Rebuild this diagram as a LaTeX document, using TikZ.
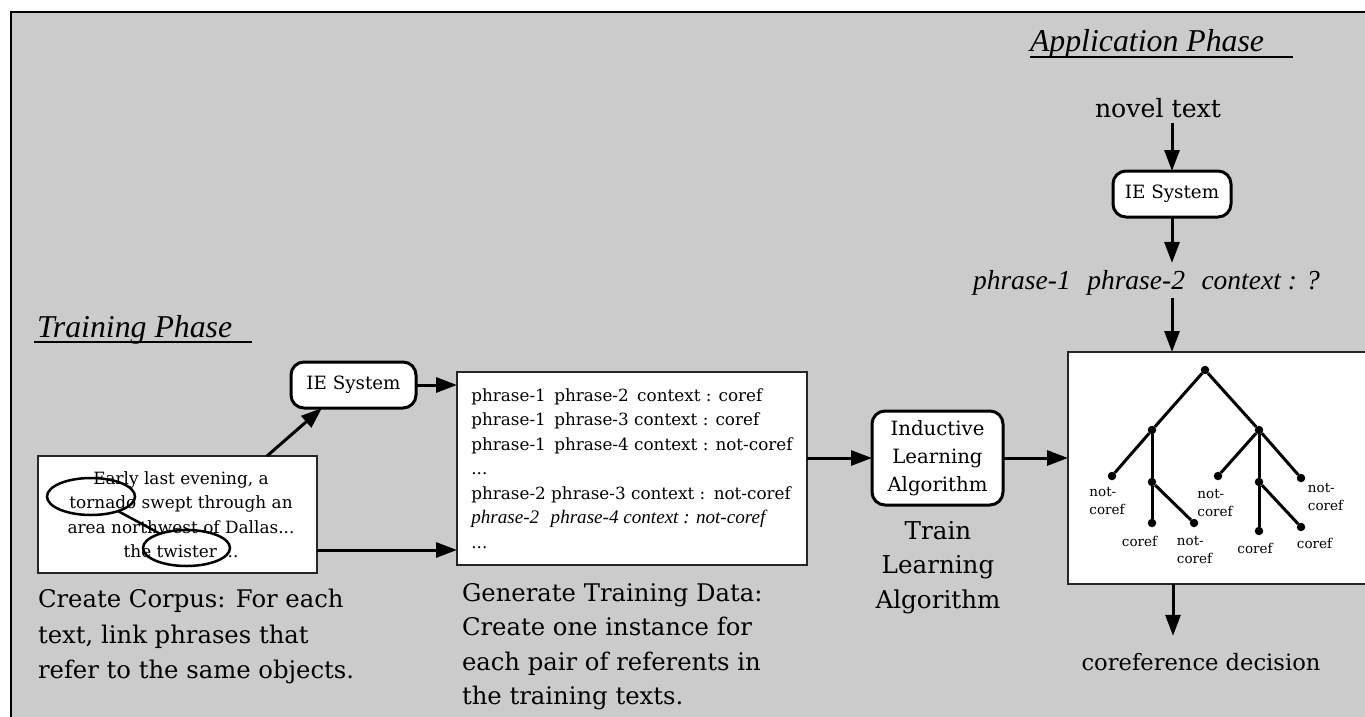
\documentclass[tikz,border=0pt]{standalone}
\usepackage{fontspec}
\setmainfont{DejaVu Serif}
\newfontfamily\timesfont{Liberation Serif}
\usetikzlibrary{arrows.meta,calc,shapes.geometric}
\definecolor{panelgrey}{HTML}{CBCBCB}
\tikzset{
  every node/.style={inner sep=0pt, outer sep=0pt},
  plainbox/.style={draw=black!85, line width=1.2pt, fill=white, rectangle},
  procbox/.style={draw=black, line width=3pt, fill=white, rounded corners=13pt},
  flow/.style={line width=3pt, -{Triangle[length=21pt,width=15pt]}},
  treeedge/.style={line width=3pt},
  treept/.style={circle, fill=black, minimum size=8.5pt},
  leaflabel/.style={font=\fontsize{13.5}{18.5}\selectfont, align=left},
  heading/.style={font=\timesfont\itshape\fontsize{31.8}{36}\selectfont},
  mark ring/.style={ellipse, draw=black, line width=2.5pt},
}
\begin{document}
\begin{tikzpicture}[x=1pt,y=-1pt]
\useasboundingbox (0,0) rectangle (1365,717);
\clip (0,0) rectangle (1365,717);
\fill[white] (0,0) rectangle (1365,717);

% grey panel with its top and left rule
\fill[panelgrey] (11,12) rectangle (1370,722);
\draw[line width=1.5pt] (11,722) -- (11,12) -- (1370,12);

% ---------- training phase ----------
\node[heading, anchor=base west] (trainhead) at (37,337) {Training Phase};
\draw[line width=1.6pt] (34,342) -- (252,342);

\node[plainbox, minimum width=279pt, minimum height=117pt] (corpus) at (177.5,514.5) {};
\node[font=\fontsize{16.9}{24.5}\selectfont, align=center] (corpustext) at (181,514.5)
  {Early last evening, a\\tornado swept through an\\area northwest of Dallas...\\the twister ...};
\node[mark ring, minimum width=88pt, minimum height=37pt] (tornado) at (91,496.5) {};
\node[mark ring, minimum width=87pt, minimum height=36pt] (twister) at (186.5,548) {};
\draw[line width=2.5pt] (tornado) -- (twister);

\node[font=\fontsize{24.3}{35.5}\selectfont, align=left, anchor=west] (corpuscap) at (38,636.5)
  {Create Corpus: For each\\text, link phrases that\\refer to the same objects.};

\node[procbox, minimum width=125pt, minimum height=46pt, font=\fontsize{18.3}{24}\selectfont] (ie1) at (353.5,385) {IE System};

\node[plainbox, minimum width=350pt, minimum height=193pt, align=left, font=\fontsize{16.8}{24.5}\selectfont] (data) at (632,468.5)
  {phrase-1\hspace{0.5em}phrase-2\hspace{0.5em}context : coref\\
   phrase-1\hspace{0.5em}phrase-3 context : coref\\
   phrase-1\hspace{0.5em}phrase-4 context : not-coref\\
   ...\\
   phrase-2 phrase-3 context :\hspace{0.5em}not-coref\\
   {\timesfont\itshape\fontsize{19.1}{24.5}\selectfont phrase-2\hspace{0.6em}phrase-4 context : not-coref}\\
   ...};

\node[font=\fontsize{24.3}{34.5}\selectfont, align=left, anchor=west] (datacap) at (462,646.5)
  {Generate Training Data:\\Create one instance for\\each pair of referents in\\the training texts.};

\node[procbox, minimum width=131pt, minimum height=94pt, align=center, font=\fontsize{19.7}{28}\selectfont] (ind) at (937.5,458)
  {Inductive\\Learning\\Algorithm};
\node[font=\fontsize{24.6}{34.5}\selectfont, align=center] (traincap) at (938,567.5)
  {Train\\Learning\\Algorithm};

% ---------- application phase ----------
\node[heading, anchor=base west] (apphead) at (1030,52) {Application Phase};
\draw[line width=1.6pt] (1030,57) -- (1293,57);

\node[font=\fontsize{25.2}{34}\selectfont, anchor=base] (novel) at (1158,117) {novel text};
\node[procbox, minimum width=118pt, minimum height=46pt, font=\fontsize{18.3}{24}\selectfont] (ie2) at (1172,194) {IE System};
\node[font=\timesfont\itshape\fontsize{27.5}{32}\selectfont, anchor=base west] (query) at (973,289)
  {phrase-1\hspace{0.6em}phrase-2\hspace{0.6em}context : ?};

\node[plainbox, minimum width=320pt, minimum height=232pt, anchor=north west] (tree) at (1068,352) {};

% decision tree
\node[treept] (root) at (1205,370) {};
\node[treept] (l)    at (1152,430) {};
\node[treept] (r)    at (1259,430) {};
\node[treept] (ll)   at (1112,476) {};
\node[treept] (lm)   at (1152,482) {};
\node[treept] (lma)  at (1152,523) {};
\node[treept] (lmb)  at (1194,523) {};
\node[treept] (rl)   at (1218,476) {};
\node[treept] (rm)   at (1259,482) {};
\node[treept] (rma)  at (1259,531) {};
\node[treept] (rmb)  at (1301,527) {};
\node[treept] (rr)   at (1301,478) {};
\draw[treeedge] (root) -- (l);
\draw[treeedge] (root) -- (r);
\draw[treeedge] (l) -- (ll);
\draw[treeedge] (l) -- (lm);
\draw[treeedge] (lm) -- (lma);
\draw[treeedge] (lm) -- (lmb);
\draw[treeedge] (r) -- (rl);
\draw[treeedge] (r) -- (rm);
\draw[treeedge] (r) -- (rr);
\draw[treeedge] (rm) -- (rma);
\draw[treeedge] (rm) -- (rmb);

\node[leaflabel] (labll)  at (1107,501)   {not-\\coref};
\node[leaflabel] (lablma) at (1139.5,541.5) {coref};
\node[leaflabel] (lablmb) at (1194.5,550) {not-\\coref};
\node[leaflabel] (labrl)  at (1215,503)   {not-\\coref};
\node[leaflabel] (labrma) at (1255,548)   {coref};
\node[leaflabel] (labrmb) at (1314.5,543) {coref};
\node[leaflabel] (labrr)  at (1325.5,497) {not-\\coref};

\node[font=\fontsize{22.6}{34}\selectfont, anchor=base] (decision) at (1201,670) {coreference decision};

% ---------- connectors ----------
\draw[flow] ([xshift=89.5pt]corpus.north) -- ([xshift=-31.5pt]ie1.south);
\draw[flow] (ie1.east) -- (ie1.east -| data.west);
\draw[flow] ($(corpus.east)+(0,35.5)$) -- ($(corpus.east -| data.west)+(0,35.5)$);
\draw[flow] (data.east |- ind.west) -- (ind.west);
\draw[flow] (ind.east) -- (ind.east -| tree.west);

\draw[flow, shorten <=6pt] (novel.south -| ie2.north) -- (ie2.north);
\draw[flow, shorten >=7pt] (ie2.south) -- (ie2.south |- query.north);
\draw[flow, shorten <=3pt] (ie2.south |- query.south) -- (ie2.south |- tree.north);
\draw[flow, shorten >=17pt] ($(tree.south -| ie2.south)+(1,0)$) -- ($(decision.north -| ie2.south)+(1,0)$);
\end{tikzpicture}
\end{document}
